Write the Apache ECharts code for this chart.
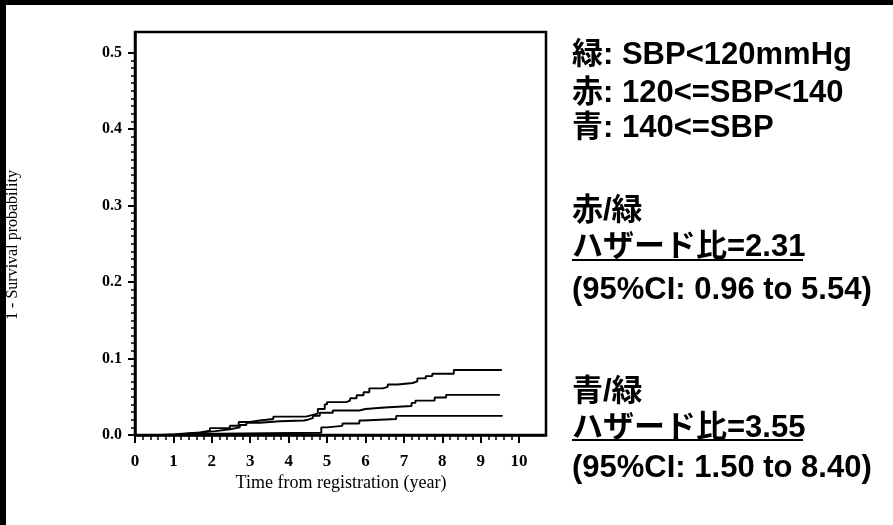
<!DOCTYPE html>
<html>
<head>
<meta charset="utf-8">
<script src="https://cdn.jsdelivr.net/npm/echarts@6/dist/echarts.min.js"></script>
<style>
html,body{margin:0;padding:0;background:#fff;}
#chart{width:893px;height:525px;}
</style>
</head>
<body>
<div id="chart"></div>
<script>
// ---- data ----
const greenTime  = [0, 1.1, 1.45, 4.85, 5.0, 5.4, 5.84, 5.95, 6.8, 9.57];
const greenRisk  = [0, 0.0013, 0.003, 0.010, 0.012, 0.015, 0.019, 0.021, 0.025, 0.025];

const redTime    = [0, 1.08, 1.43, 1.77, 2.1, 2.47, 2.73, 2.9, 3.25, 3.77, 4.4, 4.5, 4.63, 4.81, 5.15, 5.84, 6.0, 6.5, 7.2, 7.3, 7.8, 8.1, 9.5];
const redRisk    = [0, 0.002, 0.0035, 0.005, 0.0075, 0.010, 0.013, 0.016, 0.018, 0.019, 0.020, 0.022, 0.025, 0.029, 0.032, 0.034, 0.036, 0.038, 0.042, 0.045, 0.049, 0.0525, 0.0525];

const blueTime   = [0, 0.65, 1.04, 1.7, 1.95, 2.47, 2.7, 3.0, 3.25, 3.6, 4.45, 4.6, 4.76, 4.94, 5.0, 5.5, 5.6, 5.77, 5.95, 6.1, 6.45, 6.58, 6.84, 7.23, 7.35, 7.57, 7.74, 8.3, 9.55];
const blueRisk   = [0, 0.001, 0.0035, 0.0057, 0.009, 0.012, 0.017, 0.019, 0.021, 0.024, 0.026, 0.028, 0.034, 0.040, 0.043, 0.045, 0.048, 0.052, 0.056, 0.061, 0.063, 0.066, 0.068, 0.070, 0.074, 0.077, 0.080, 0.085, 0.085];

const xTickLabels = [0, 1, 2, 3, 4, 5, 6, 7, 8, 9, 10];
const yTickLabels = [0.0, 0.1, 0.2, 0.3, 0.4, 0.5];

const legendLines = ['緑: SBP<120mmHg', '赤: 120<=SBP<140', '青: 140<=SBP'];
const block1 = ['赤/緑', 'ハザード比=2.31', '(95%CI: 0.96 to 5.54)'];
const block2 = ['青/緑', 'ハザード比=3.55', '(95%CI: 1.50 to 8.40)'];
const xName = 'Time from registration (year)';
const yName = '1 - Survival probability';

// minor tick positions
const xMinor = [];
for (let i = 0; i < 50; i++) { if (i % 5 !== 0) xMinor.push(i / 5); }
const yMinor = [];
for (let i = 1; i < 50; i++) { if (i % 10 !== 0) yMinor.push(i / 100); }

function pairs(t, v) { return t.map((x, i) => [x, v[i]]); }

const serif = '"Liberation Serif", "Times New Roman", serif';
const sans = '"Liberation Sans", Arial, "Noto Sans CJK JP", sans-serif';

const chart = echarts.init(document.getElementById('chart'), null, {renderer: 'canvas'});

function txt(text, x, y) {
  return {
    type: 'text', x: x, y: y,
    style: {text: text, fill: '#000', fontSize: 31, fontWeight: 'bold', fontFamily: sans,
            align: 'left', verticalAlign: 'middle', textAlign: 'left', textVerticalAlign: 'middle'}
  };
}

const lineStyle = {color: '#000', width: 1.9};
const mkSeries = (name, t, v) => ({
  name: name, type: 'line', step: 'end', showSymbol: false, symbol: 'none',
  data: pairs(t, v), lineStyle: lineStyle, itemStyle: {color: '#000'},
  xAxisIndex: 0, yAxisIndex: 0, animation: false
});

const option = {
  animation: false,
  backgroundColor: '#fff',
  grid: {left: 135, right: 347, top: 32, bottom: 90, show: true,
         borderColor: '#000', borderWidth: 2.5, backgroundColor: 'transparent',
         containLabel: false},
  xAxis: [
    {type: 'value', min: 0, max: 10.7, interval: 1, position: 'bottom',
     axisLine: {show: true, onZero: false, lineStyle: {color: '#000', width: 2.5}},
     axisTick: {show: true, length: 8, customValues: xTickLabels, lineStyle: {color: '#000', width: 2}},
     axisLabel: {show: true, customValues: xTickLabels, margin: 18, color: '#000',
                 fontFamily: serif, fontWeight: 'bold', fontSize: 17,
                 formatter: v => String(Math.round(v))},
     splitLine: {show: false}},
    {type: 'value', min: 0, max: 10.7, interval: 1, position: 'bottom',
     axisLine: {show: false},
     axisTick: {show: true, length: 5, customValues: xMinor, lineStyle: {color: '#000', width: 1.5}},
     axisLabel: {show: false}, splitLine: {show: false}}
  ],
  yAxis: [
    {type: 'value', min: 0, max: 0.527, interval: 0.1, position: 'left',
     axisLine: {show: true, onZero: false, lineStyle: {color: '#000', width: 2.5}},
     axisTick: {show: true, length: 7, customValues: yTickLabels, lineStyle: {color: '#000', width: 2}},
     axisLabel: {show: true, customValues: yTickLabels, margin: 13, color: '#000',
                 fontFamily: serif, fontWeight: 'bold', fontSize: 16,
                 formatter: v => v.toFixed(1)},
     splitLine: {show: false}},
    {type: 'value', min: 0, max: 0.527, interval: 0.1, position: 'left',
     axisLine: {show: false},
     axisTick: {show: true, length: 4, customValues: yMinor, lineStyle: {color: '#000', width: 1.5}},
     axisLabel: {show: false}, splitLine: {show: false}}
  ],
  series: [
    mkSeries('green', greenTime, greenRisk),
    mkSeries('red', redTime, redRisk),
    mkSeries('blue', blueTime, blueRisk)
  ],
  graphic: [
    {type: 'rect', shape: {x: 0, y: 0, width: 893, height: 5}, style: {fill: '#000'}},
    {type: 'rect', shape: {x: 0, y: 0, width: 6, height: 525}, style: {fill: '#000'}},
    {type: 'text', x: 341, y: 483,
     style: {text: xName, fill: '#000', fontSize: 18, fontFamily: serif,
             align: 'center', verticalAlign: 'middle', textAlign: 'center', textVerticalAlign: 'middle'}},
    {type: 'text', x: 13, y: 245, rotation: Math.PI / 2,
     style: {text: yName, fill: '#000', fontSize: 16, fontFamily: serif,
             align: 'center', verticalAlign: 'middle', textAlign: 'center', textVerticalAlign: 'middle'}},
    txt(legendLines[0], 572, 55),
    txt(legendLines[1], 572, 93),
    txt(legendLines[2], 572, 128),
    txt(block1[0], 572, 211),
    txt(block1[1], 572, 247),
    txt(block1[2], 572, 290),
    txt(block2[0], 572, 392),
    txt(block2[1], 572, 428),
    txt(block2[2], 572, 468),
    {type: 'line', shape: {x1: 572, y1: 260, x2: 803, y2: 260}, style: {stroke: '#000', lineWidth: 2}},
    {type: 'line', shape: {x1: 572, y1: 440, x2: 803, y2: 440}, style: {stroke: '#000', lineWidth: 2}}
  ]
};
chart.setOption(option);
</script>
</body>
</html>
